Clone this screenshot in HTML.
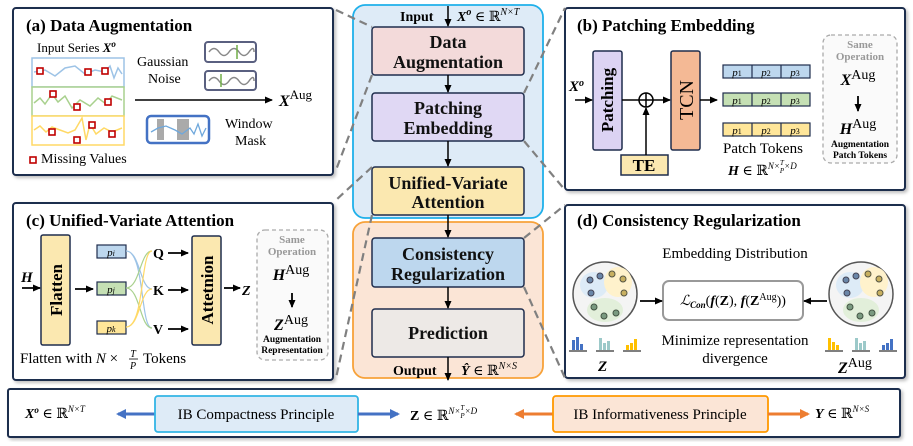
<!DOCTYPE html>
<html><head><meta charset="utf-8"><style>
html,body{margin:0;padding:0;background:#fff}
svg{display:block}
svg, svg text, svg tspan{font-family:"Liberation Serif","DejaVu Serif",serif}
.t{font-weight:bold;font-size:17px}
.b{font-weight:bold}
</style></head><body>
<svg width="913" height="446" viewBox="0 0 913 446" xmlns="http://www.w3.org/2000/svg" font-family="Liberation Serif, serif">
<defs>
<marker id="ar" markerWidth="8" markerHeight="8" refX="7" refY="4" orient="auto" markerUnits="userSpaceOnUse"><path d="M0,0.5 L8,4 L0,7.5 z" fill="#000"/></marker>
<marker id="ab" markerWidth="10" markerHeight="10" refX="8" refY="5" orient="auto" markerUnits="userSpaceOnUse"><path d="M0,0 L10,5 L0,10 z" fill="#4472c4"/></marker>
<marker id="ao" markerWidth="10" markerHeight="10" refX="8" refY="5" orient="auto" markerUnits="userSpaceOnUse"><path d="M0,0 L10,5 L0,10 z" fill="#ed7d31"/></marker>
<filter id="sh"><feDropShadow dx="2" dy="2" stdDeviation="1.5" flood-color="#000" flood-opacity="0.25"/></filter>
</defs>

<g fill="#fff" stroke="#1f2d4d" stroke-width="2">
<rect x="13" y="8" width="320" height="167" rx="3" filter="url(#sh)"/>
<rect x="13" y="203" width="320" height="177" rx="3" filter="url(#sh)"/>
<rect x="565" y="8" width="340" height="182" rx="3" filter="url(#sh)"/>
<rect x="565" y="205" width="340" height="173" rx="3" filter="url(#sh)"/>
<rect x="8" y="389" width="892" height="48" rx="2" filter="url(#sh)"/>
</g>

<rect x="353" y="5" width="190" height="213" rx="12" fill="#deebf7" stroke="#1fb0ea" stroke-width="1.8"/>
<rect x="353" y="222" width="190" height="156" rx="12" fill="#fbe5d6" stroke="#f7a23a" stroke-width="1.8"/>
<g stroke="#1f2d4d" stroke-width="1.5">
<rect x="372" y="27" width="152" height="48" rx="3" fill="#f3dada"/>
<rect x="372" y="93" width="152" height="48" rx="3" fill="#e0d8f4"/>
<rect x="372" y="167" width="152" height="48" rx="3" fill="#fbe8b0"/>
<rect x="372" y="238" width="152" height="49" rx="3" fill="#bdd7ee"/>
<rect x="372" y="309" width="152" height="48" rx="3" fill="#ede9e6"/>
</g>
<g font-size="18" class="b" text-anchor="middle" fill="#111">
<text x="448" y="48">Data</text><text x="448" y="68">Augmentation</text>
<text x="448" y="114">Patching</text><text x="448" y="134">Embedding</text>
<text x="448" y="189">Unified-Variate</text><text x="448" y="208">Attention</text>
<text x="448" y="260">Consistency</text><text x="448" y="280">Regularization</text>
<text x="448" y="339">Prediction</text>
</g>
<g stroke="#000" stroke-width="1.5" marker-end="url(#ar)">
<line x1="448" y1="6" x2="448" y2="26"/>
<line x1="448" y1="75" x2="448" y2="92"/>
<line x1="448" y1="141" x2="448" y2="166"/>
<line x1="448" y1="215" x2="448" y2="237"/>
<line x1="448" y1="287" x2="448" y2="308"/>
<line x1="448" y1="357" x2="448" y2="380"/>
</g>
<text x="400" y="21" font-size="14" class="b">Input</text>
<text x="457" y="21" font-size="14"><tspan font-style="italic" font-weight="bold">X<tspan font-size="10" dy="-6">o</tspan></tspan><tspan dy="6"> ∈ ℝ</tspan><tspan font-size="10" dy="-6" font-style="italic">N×T</tspan></text>
<text x="393" y="375" font-size="14" class="b">Output</text>
<text x="461" y="375" font-size="14"><tspan font-style="italic" font-weight="bold">Ŷ</tspan> ∈ ℝ<tspan font-size="10" dy="-6" font-style="italic">N×S</tspan></text>

<g stroke="#808080" stroke-width="2.2" stroke-dasharray="8,5" fill="none">
<line x1="336" y1="10" x2="372" y2="27"/>
<line x1="372" y1="75" x2="336" y2="170"/>
<line x1="524" y1="93" x2="565" y2="8"/>
<line x1="524" y1="141" x2="565" y2="190"/>
<line x1="372" y1="167" x2="336" y2="200"/>
<line x1="372" y1="215" x2="336" y2="378"/>
<line x1="524" y1="238" x2="565" y2="205"/>
<line x1="524" y1="287" x2="565" y2="378"/>
</g>

<!-- (a) -->
<text x="26" y="31" class="t">(a) Data Augmentation</text>
<text x="37" y="52" font-size="13">Input Series <tspan font-style="italic" font-weight="bold">X<tspan font-size="9" dy="-5">o</tspan></tspan></text>
<rect x="32" y="58" width="92" height="29" fill="#fff" stroke="#9dc3e6" stroke-width="1.5"/>
<rect x="32" y="87" width="92" height="29" fill="#fff" stroke="#a9d18e" stroke-width="1.5"/>
<rect x="32" y="116" width="92" height="29" fill="#fff" stroke="#ffd966" stroke-width="1.5"/>
<polyline points="34,72 45,70 55,76 65,68 75,66 85,74 95,70 105,72 110,66 114,78 118,68 122,74" fill="none" stroke="#9dc3e6" stroke-width="1.5"/>
<polyline points="34,103 40,98 45,104 52,94 58,102 65,96 72,108 80,100 90,106 98,98 106,104 112,96 122,100" fill="none" stroke="#a9d18e" stroke-width="1.5"/>
<polyline points="34,130 40,126 46,132 52,127 60,130 68,133 75,130 82,118 86,140 90,124 96,134 104,128 112,132 122,128" fill="none" stroke="#ffd966" stroke-width="1.5"/>
<g fill="#fff" stroke="#c00000" stroke-width="1.6">
<rect x="37" y="68" width="6" height="6"/><rect x="85" y="69" width="6" height="6"/><rect x="102" y="68" width="6" height="6"/>
<rect x="50" y="91" width="6" height="6"/><rect x="74" y="104" width="6" height="6"/><rect x="105" y="99" width="6" height="6"/>
<rect x="49" y="129" width="6" height="6"/><rect x="89" y="122" width="6" height="6"/><rect x="74" y="137" width="6" height="6"/><rect x="109" y="131" width="6" height="6"/>
<rect x="30" y="157" width="6" height="6"/>
</g>
<text x="41" y="163" font-size="14">Missing Values</text>
<text x="137" y="66" font-size="14">Gaussian</text>
<text x="148" y="83" font-size="14">Noise</text>
<rect x="205" y="42" width="51" height="20" rx="3" fill="#fff" stroke="#5a6080" stroke-width="2"/>
<rect x="205" y="71" width="51" height="19" rx="3" fill="#fff" stroke="#5a6080" stroke-width="2"/>
<path d="M209,52 q5,-7 10,0 t10,0 t10,0 t10,0 t5,0" fill="none" stroke="#888" stroke-width="1.5"/>
<path d="M209,81 q5,-7 10,0 t10,0 t10,0 t10,0 t5,0" fill="none" stroke="#888" stroke-width="1.5"/>
<line x1="237" y1="45" x2="237" y2="59" stroke="#70ad47" stroke-width="1.5"/>
<line x1="221" y1="74" x2="221" y2="87" stroke="#70ad47" stroke-width="1.5"/>
<line x1="135" y1="100" x2="272" y2="100" stroke="#000" stroke-width="1.5" marker-end="url(#ar)"/>
<text x="279" y="106" font-size="16" font-style="italic" font-weight="bold">X<tspan font-size="13" font-style="normal" font-weight="normal" dy="-7">Aug</tspan></text>
<rect x="147" y="116" width="62" height="27" rx="4" fill="#fff" stroke="#4472c4" stroke-width="2.5"/>
<rect x="157" y="119" width="7" height="21" fill="#aaa"/><rect x="177" y="119" width="12" height="21" fill="#aaa"/>
<polyline points="151,132 158,128 166,126 175,130 182,134 190,128 194,134 198,124 202,136 206,128" fill="none" stroke="#6fa8dc" stroke-width="1.3"/>
<text x="225" y="128" font-size="14">Window</text>
<text x="235" y="145" font-size="14">Mask</text>

<!-- (b) -->
<text x="577" y="31" class="t">(b) Patching Embedding</text>
<rect x="593" y="51" width="29" height="99" rx="2" fill="#dcd3f3" stroke="#1f2d4d" stroke-width="1.5"/>
<text transform="translate(613,100) rotate(-90)" text-anchor="middle" font-size="17" class="b">Patching</text>
<rect x="671" y="51" width="29" height="99" rx="2" fill="#f4b995" stroke="#1f2d4d" stroke-width="1.5"/>
<text transform="translate(693,100) rotate(-90)" text-anchor="middle" font-size="20">TCN</text>
<rect x="621" y="155" width="47" height="20" fill="#fbe8b0" stroke="#1f2d4d" stroke-width="1.5"/>
<text x="644" y="171" text-anchor="middle" font-size="17" class="b">TE</text>
<text x="569" y="91" font-size="15" font-style="italic" font-weight="bold">X<tspan font-size="10" dy="-5">o</tspan></text>
<g stroke="#000" stroke-width="1.5" fill="none">
<line x1="575" y1="100" x2="592" y2="100" marker-end="url(#ar)"/>
<line x1="622" y1="100" x2="639" y2="100"/>
<circle cx="646" cy="100" r="7"/>
<line x1="639" y1="100" x2="653" y2="100"/><line x1="646" y1="93" x2="646" y2="107"/>
<line x1="653" y1="100" x2="670" y2="100" marker-end="url(#ar)"/>
<line x1="646" y1="155" x2="646" y2="108" marker-end="url(#ar)"/>
<line x1="700" y1="100" x2="717" y2="100" marker-end="url(#ar)"/>
</g>
<g stroke="#1f2d4d" stroke-width="1.2">
<rect x="723" y="65" width="87" height="13" fill="#bdd7ee"/><line x1="752" y1="65" x2="752" y2="78"/><line x1="781" y1="65" x2="781" y2="78"/>
<rect x="723" y="93" width="87" height="13" fill="#c5e0b4"/><line x1="752" y1="93" x2="752" y2="106"/><line x1="781" y1="93" x2="781" y2="106"/>
<rect x="723" y="123" width="87" height="13" fill="#ffe699"/><line x1="752" y1="123" x2="752" y2="136"/><line x1="781" y1="123" x2="781" y2="136"/>
</g>
<g font-size="11" font-style="italic" text-anchor="middle">
<text x="737" y="76">p<tspan font-size="8" font-style="normal">1</tspan></text><text x="766" y="76">p<tspan font-size="8" font-style="normal">2</tspan></text><text x="795" y="76">p<tspan font-size="8" font-style="normal">3</tspan></text>
<text x="737" y="104">p<tspan font-size="8" font-style="normal">1</tspan></text><text x="766" y="104">p<tspan font-size="8" font-style="normal">2</tspan></text><text x="795" y="104">p<tspan font-size="8" font-style="normal">3</tspan></text>
<text x="737" y="134">p<tspan font-size="8" font-style="normal">1</tspan></text><text x="766" y="134">p<tspan font-size="8" font-style="normal">2</tspan></text><text x="795" y="134">p<tspan font-size="8" font-style="normal">3</tspan></text>
</g>
<text x="723" y="153" font-size="15">Patch Tokens</text>
<text x="728" y="175" font-size="14"><tspan font-style="italic" font-weight="bold">H</tspan> ∈ ℝ<tspan font-size="9" font-style="italic" dy="-6">N×</tspan><tspan font-size="7" font-style="italic" dy="-4">T</tspan><tspan font-size="7" font-style="italic" dx="-4" dy="8">P</tspan><tspan font-size="9" font-style="italic" dy="-4">×D</tspan></text>
<rect x="823" y="35" width="74" height="128" rx="8" fill="#fafafa" stroke="#aaa" stroke-width="1.3" stroke-dasharray="4,3"/>
<g text-anchor="middle">
<text x="860" y="48" font-size="11" fill="#999" class="b">Same</text>
<text x="860" y="60" font-size="11" fill="#999" class="b">Operation</text>
<text x="858" y="85" font-size="16"><tspan font-style="italic" font-weight="bold">X</tspan><tspan dy="-6" font-size="14">Aug</tspan></text>
<text x="858" y="134" font-size="16"><tspan font-style="italic" font-weight="bold">H</tspan><tspan dy="-6" font-size="14">Aug</tspan></text>
<text x="860" y="147" font-size="9.5" class="b">Augmentation</text>
<text x="860" y="158" font-size="9.5" class="b">Patch Tokens</text>
</g>
<line x1="858" y1="96" x2="858" y2="111" stroke="#000" stroke-width="1.8" marker-end="url(#ar)"/>

<!-- (c) -->
<text x="26" y="226" class="t">(c) Unified-Variate Attention</text>
<rect x="41" y="235" width="29" height="110" rx="2" fill="#fbe8b0" stroke="#1f2d4d" stroke-width="1.5"/>
<text transform="translate(62,290) rotate(-90)" text-anchor="middle" font-size="17" class="b">Flatten</text>
<rect x="192" y="236" width="29" height="109" rx="2" fill="#fbe8b0" stroke="#1f2d4d" stroke-width="1.5"/>
<text transform="translate(213,290) rotate(-90)" text-anchor="middle" font-size="17" class="b">Attetnion</text>
<text x="21" y="282" font-size="15" font-style="italic" font-weight="bold">H</text>
<g stroke="#1f2d4d" stroke-width="1.2">
<rect x="97" y="245" width="29" height="13" fill="#bdd7ee"/>
<rect x="97" y="282" width="29" height="13" fill="#c5e0b4"/>
<rect x="97" y="321" width="29" height="13" fill="#ffe699"/>
</g>
<g font-size="11" font-style="italic" text-anchor="middle">
<text x="111" y="256">p<tspan font-size="8">i</tspan></text>
<text x="111" y="293">p<tspan font-size="8">j</tspan></text>
<text x="111" y="332">p<tspan font-size="8">k</tspan></text>
</g>
<g fill="none" stroke-width="1.2">
<path d="M126,251 C140,251 140,289 152,289 M126,251 C145,251 140,328 152,328" stroke="#9dc3e6"/>
<path d="M126,288 C140,288 140,251 152,251 M126,288 C140,288 140,328 152,328" stroke="#a9d18e"/>
<path d="M126,327 C145,327 140,251 152,251 M126,327 C140,327 140,289 152,289" stroke="#ffd966"/>
</g>
<g font-size="14" class="b">
<text x="153" y="258">Q</text><text x="153" y="295">K</text><text x="153" y="334">V</text>
<text x="242" y="295" font-style="italic">Z</text>
</g>
<g stroke="#000" stroke-width="1.8">
<line x1="22" y1="288" x2="40" y2="288" marker-end="url(#ar)"/>
<line x1="75" y1="289" x2="93" y2="289" marker-end="url(#ar)"/>
<line x1="168" y1="253" x2="188" y2="253" marker-end="url(#ar)"/>
<line x1="168" y1="290" x2="188" y2="290" marker-end="url(#ar)"/>
<line x1="168" y1="329" x2="188" y2="329" marker-end="url(#ar)"/>
<line x1="224" y1="288" x2="240" y2="288" marker-end="url(#ar)"/>
</g>
<text x="20" y="363" font-size="15">Flatten with <tspan font-style="italic">N</tspan> × </text>
<text x="133" y="357" font-size="10" font-style="italic" text-anchor="middle">T</text>
<line x1="129" y1="359" x2="138" y2="359" stroke="#000" stroke-width="0.8"/>
<text x="133" y="369" font-size="10" font-style="italic" text-anchor="middle">P</text>
<text x="143" y="363" font-size="15">Tokens</text>
<rect x="257" y="230" width="71" height="130" rx="8" fill="#fafafa" stroke="#aaa" stroke-width="1.3" stroke-dasharray="4,3"/>
<g text-anchor="middle">
<text x="292" y="243" font-size="11" fill="#999" class="b">Same</text>
<text x="292" y="255" font-size="11" fill="#999" class="b">Operation</text>
<text x="291" y="280" font-size="16"><tspan font-style="italic" font-weight="bold">H</tspan><tspan dy="-6" font-size="14">Aug</tspan></text>
<text x="291" y="330" font-size="16"><tspan font-style="italic" font-weight="bold">Z</tspan><tspan dy="-6" font-size="14">Aug</tspan></text>
<text x="292" y="342" font-size="9.5" class="b">Augmentation</text>
<text x="292" y="353" font-size="9.5" class="b">Representation</text>
</g>
<line x1="292" y1="293" x2="292" y2="307" stroke="#000" stroke-width="1.8" marker-end="url(#ar)"/>

<!-- (d) -->
<text x="577" y="226" class="t">(d) Consistency Regularization</text>
<text x="735" y="258" font-size="15" text-anchor="middle">Embedding Distribution</text>
<g id="cl">
<circle cx="605" cy="294" r="32" fill="#f4f4f4" stroke="#555" stroke-width="1.5"/>
<ellipse cx="594" cy="285" rx="14" ry="13" fill="#ddebf7"/>
<ellipse cx="618" cy="282" rx="14" ry="15" fill="#fff2cc"/>
<ellipse cx="605" cy="310" rx="18" ry="12" fill="#e2efda"/>
<g stroke="#445" stroke-width="1" fill="#6a86a8"><circle cx="590" cy="280" r="3"/><circle cx="600" cy="276" r="3"/><circle cx="591" cy="293" r="3"/></g>
<g stroke="#554" stroke-width="1" fill="#c8b060"><circle cx="612" cy="274" r="3"/><circle cx="623" cy="279" r="3"/><circle cx="624" cy="293" r="3"/></g>
<g stroke="#454" stroke-width="1" fill="#7a9a80"><circle cx="594" cy="307" r="3"/><circle cx="604" cy="316" r="3"/><circle cx="616" cy="313" r="3"/></g>
</g>
<use href="#cl" x="256"/>
<rect x="663" y="281" width="140" height="39" rx="6" fill="#fff" stroke="#999" stroke-width="2"/>
<text x="733" y="305" font-size="14" text-anchor="middle"><tspan font-style="italic">ℒ</tspan><tspan font-size="9" font-style="italic" font-weight="bold" dy="3">Con</tspan><tspan dy="-3">(</tspan><tspan font-style="italic" font-weight="bold">f</tspan>(<tspan font-weight="bold">Z</tspan>), <tspan font-style="italic" font-weight="bold">f</tspan>(<tspan font-weight="bold">Z</tspan><tspan font-size="10" dy="-5">Aug</tspan><tspan dy="5">))</tspan></text>
<g stroke="#000" stroke-width="1.8">
<line x1="640" y1="301" x2="662" y2="301" marker-end="url(#ar)"/>
<line x1="827" y1="301" x2="804" y2="301" marker-end="url(#ar)"/>
</g>
<text x="735" y="345" font-size="15" text-anchor="middle">Minimize representation</text>
<text x="735" y="363" font-size="15" text-anchor="middle">divergence</text>
<g>
<rect x="572" y="340" width="3" height="10" fill="#4472c4"/><rect x="576" y="337" width="3" height="13" fill="#4472c4"/><rect x="580" y="344" width="3" height="6" fill="#4472c4"/>
<rect x="599" y="338" width="3" height="12" fill="#9cc9c9"/><rect x="603" y="343" width="3" height="7" fill="#9cc9c9"/><rect x="607" y="341" width="3" height="9" fill="#9cc9c9"/>
<rect x="626" y="345" width="3" height="5" fill="#ffc000"/><rect x="630" y="343" width="3" height="7" fill="#ffc000"/><rect x="634" y="339" width="3" height="11" fill="#ffc000"/>
<rect x="828" y="338" width="3" height="12" fill="#ffc000"/><rect x="832" y="342" width="3" height="8" fill="#ffc000"/><rect x="836" y="345" width="3" height="5" fill="#ffc000"/>
<rect x="855" y="338" width="3" height="12" fill="#9cc9c9"/><rect x="859" y="343" width="3" height="7" fill="#9cc9c9"/><rect x="863" y="341" width="3" height="9" fill="#9cc9c9"/>
<rect x="882" y="345" width="3" height="5" fill="#4472c4"/><rect x="886" y="343" width="3" height="7" fill="#4472c4"/><rect x="890" y="339" width="3" height="11" fill="#4472c4"/>
<g stroke="#333" stroke-width="1.2"><line x1="569" y1="351" x2="587" y2="351"/><line x1="596" y1="351" x2="614" y2="351"/><line x1="623" y1="351" x2="641" y2="351"/><line x1="825" y1="351" x2="843" y2="351"/><line x1="852" y1="351" x2="870" y2="351"/><line x1="879" y1="351" x2="897" y2="351"/></g>
</g>
<text x="598" y="371" font-size="15" class="b" font-style="italic">Z</text>
<text x="838" y="373" font-size="16"><tspan font-style="italic" font-weight="bold">Z</tspan><tspan dy="-6" font-size="14">Aug</tspan></text>

<!-- bottom -->
<text x="25" y="418" font-size="14"><tspan font-style="italic" font-weight="bold">X<tspan font-size="9" dy="-5">o</tspan></tspan><tspan dy="5"> ∈ ℝ</tspan><tspan font-size="9" font-style="italic" dy="-6">N×T</tspan></text>
<line x1="155" y1="414" x2="118" y2="414" stroke="#4472c4" stroke-width="3" marker-end="url(#ab)"/>
<rect x="155" y="396" width="203" height="36" rx="3" fill="#deebf7" stroke="#33b5e5" stroke-width="1.8"/>
<text x="256" y="419" font-size="15" text-anchor="middle">IB Compactness Principle</text>
<line x1="358" y1="414" x2="398" y2="414" stroke="#4472c4" stroke-width="3" marker-end="url(#ab)"/>
<text x="410" y="420" font-size="14"><tspan font-weight="bold">Z</tspan> ∈ ℝ<tspan font-size="9" font-style="italic" dy="-6">N×</tspan><tspan font-size="7" font-style="italic" dy="-4">T</tspan><tspan font-size="7" font-style="italic" dx="-4" dy="8">P</tspan><tspan font-size="9" font-style="italic" dy="-4">×D</tspan></text>
<line x1="553" y1="414" x2="516" y2="414" stroke="#ed7d31" stroke-width="3" marker-end="url(#ao)"/>
<rect x="553" y="396" width="215" height="36" rx="3" fill="#fbe5d6" stroke="#ff9900" stroke-width="1.8"/>
<text x="660" y="419" font-size="15" text-anchor="middle">IB Informativeness Principle</text>
<line x1="768" y1="414" x2="808" y2="414" stroke="#ed7d31" stroke-width="3" marker-end="url(#ao)"/>
<text x="815" y="418" font-size="14"><tspan font-style="italic" font-weight="bold">Y</tspan> ∈ ℝ<tspan font-size="9" font-style="italic" dy="-6">N×S</tspan></text>
</svg>
</body></html>
